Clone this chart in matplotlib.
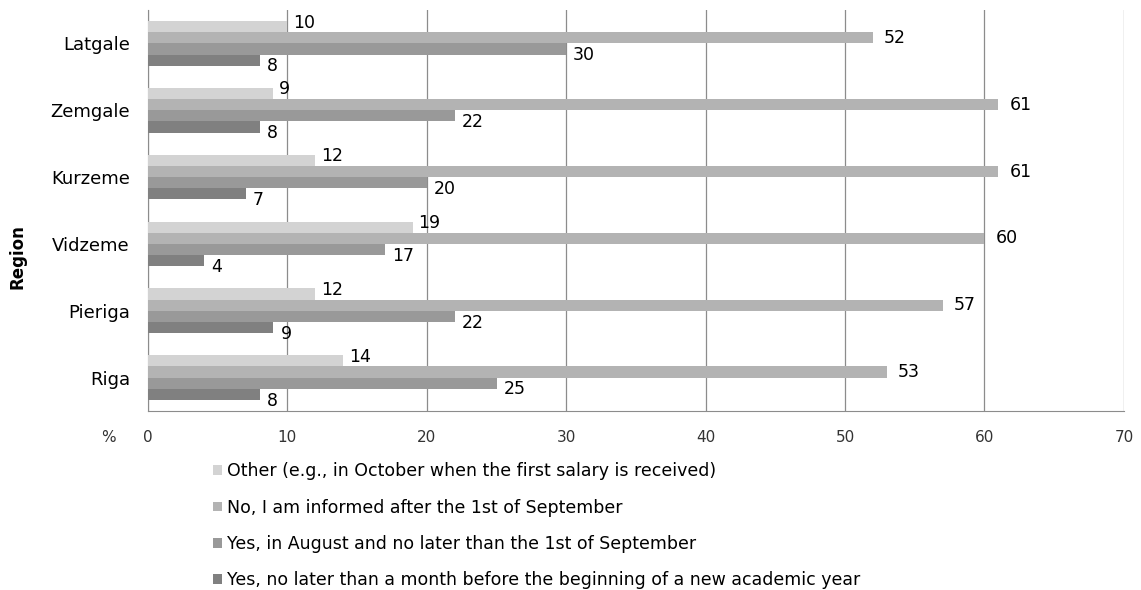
import matplotlib
matplotlib.use("Agg")
import matplotlib.pyplot as plt
import numpy as np

regions = ["Latgale", "Zemgale", "Kurzeme", "Vidzeme", "Pieriga", "Riga"]
series_names = [
    "Other (e.g., in October when the first salary is received)",
    "No, I am informed after the 1st of September",
    "Yes, in August and no later than the 1st of September",
    "Yes, no later than a month before the beginning of a new academic year",
]
other = [10, 9, 12, 19, 12, 14]
informed_after = [52, 61, 61, 60, 57, 53]
in_august = [30, 22, 20, 17, 22, 25]
month_before = [8, 8, 7, 4, 9, 8]
x_ticks = [0, 10, 20, 30, 40, 50, 60, 70]

values = [other, informed_after, in_august, month_before]
colors = ["#d3d3d3", "#b3b3b3", "#999999", "#808080"]
# label nudges (points, down is negative) to mimic the original placement
label_dy = [3, 0, -4.5, -4.5]
label_dx = [4, 8, 5, 5]

plt.rcParams['font.family'] = ['DejaVu Sans']

fig = plt.figure(figsize=(11.41, 5.9), dpi=100)
ax = fig.add_axes([0.1297, 0.3034, 0.8553, 0.6796])

n = len(regions)
ypos = np.arange(n)[::-1]
h = 0.167

for k, (vals, col) in enumerate(zip(values, colors)):
    yk = ypos + (1.5 - k) * h
    bars = ax.barh(yk, vals, height=h, color=col, label=series_names[k], zorder=3)
    for b, v in zip(bars, vals):
        ax.annotate(str(v), (b.get_width(), b.get_y() + h / 2),
                    xytext=(label_dx[k], label_dy[k]), textcoords="offset points",
                    ha="left", va="center", fontsize=12.5, color="#000000", zorder=4)

ax.set_xlim(0, 70)
ax.set_ylim(-0.5, n - 0.5)
ax.set_xticks(x_ticks)
ax.set_yticks(ypos)
ax.set_yticklabels(regions, fontsize=13)
ax.tick_params(axis="x", length=0, pad=14, labelsize=11, colors="#333333")
ax.tick_params(axis="y", length=0, pad=13)
ax.grid(axis="x", color="#8c8c8c", linewidth=0.9, zorder=0)
for s in ["top", "right"]:
    ax.spines[s].set_visible(False)
ax.spines["left"].set_color("#8c8c8c")
ax.spines["bottom"].set_color("#8c8c8c")
ax.set_ylabel("Region", fontsize=12, fontweight="bold")
ax.yaxis.set_label_coords(-0.125, 0.384)

fig.text(108 / 1141, 1 - 438 / 590, "%", fontsize=11, ha="center", va="center", color="#333333")

handles, labels = ax.get_legend_handles_labels()
leg = fig.legend(handles, labels, loc="upper left", bbox_to_anchor=(0.181, 0.228),
                 frameon=False, fontsize=12.5, handlelength=0.5, handleheight=0.5,
                 handletextpad=0.3, labelspacing=1.05, borderaxespad=0)

fig.savefig("out.png", dpi=100)
